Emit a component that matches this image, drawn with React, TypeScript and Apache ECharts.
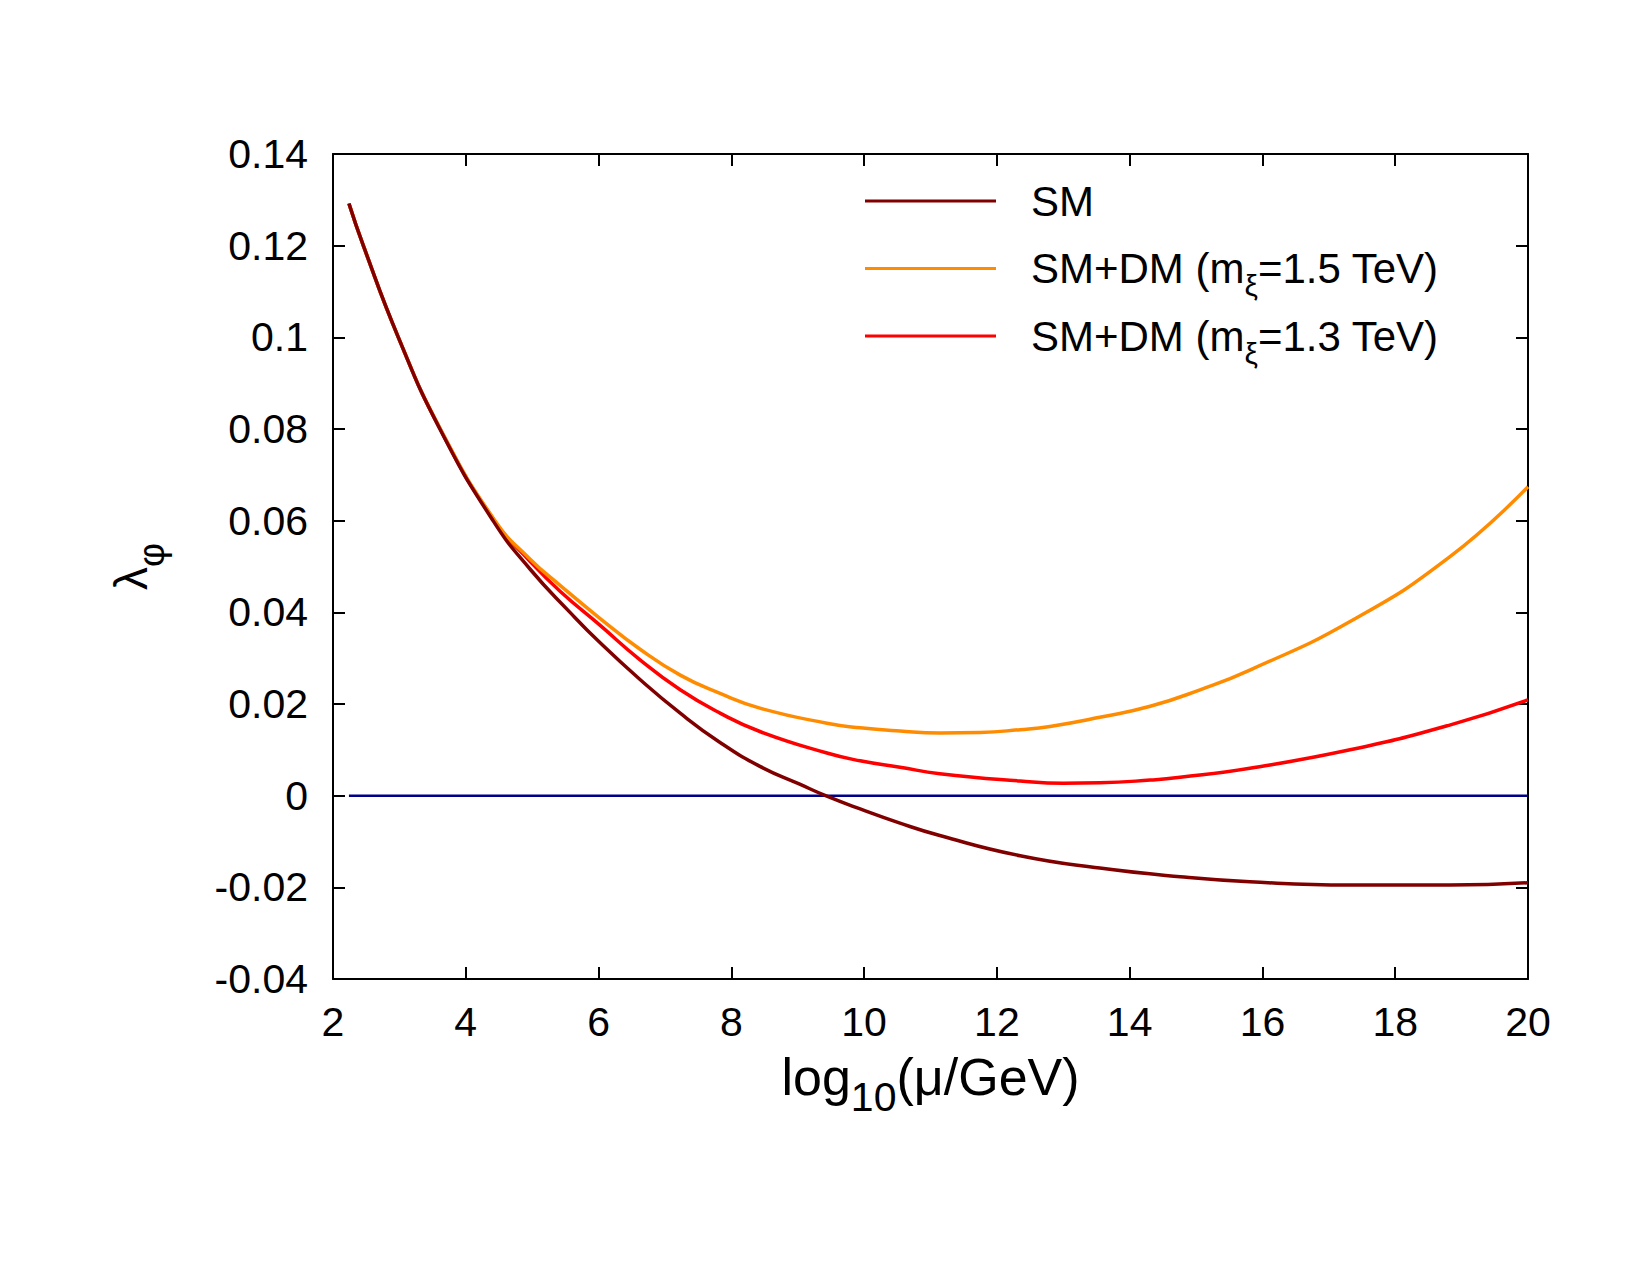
import React, { useEffect, useRef } from "react";
import * as echarts from "echarts";

const FONT = "Liberation Sans, Arial, Helvetica, sans-serif";

// x = log10(mu/GeV), y = lambda_phi
const smX = [2.24, 2.457, 2.984, 3.61, 4.41, 4.97, 5.57, 6.02, 6.62, 7.23, 7.83, 8.43, 9.03, 9.42, 9.94, 10.54, 11.14, 12.35, 13.55, 14.76, 15.81, 17.32, 18.82, 20];
const smY = [0.1292, 0.12, 0.1, 0.08, 0.06, 0.0494, 0.04, 0.0334, 0.0254, 0.018, 0.0116, 0.0064, 0.0025, 0.0, -0.0029, -0.006, -0.0087, -0.0131, -0.0158, -0.0177, -0.0188, -0.0195, -0.0195, -0.019];

const dm15X = [2.24, 2.457, 2.984, 3.61, 4.44, 4.97, 5.42, 6.02, 6.62, 7.23, 7.83, 8.43, 9.44, 9.94, 10.54, 11.14, 11.75, 12.35, 12.8, 13.55, 14.31, 15.06, 15.81, 17.32, 18.82, 20];
const dm15Y = [0.1292, 0.12, 0.1, 0.0802, 0.06, 0.0516, 0.0459, 0.0387, 0.032, 0.0263, 0.0223, 0.0191, 0.0158, 0.0148, 0.0141, 0.0137, 0.0138, 0.0144, 0.0151, 0.0171, 0.0195, 0.0231, 0.0274, 0.038, 0.0521, 0.0674];

const dm13X = [2.24, 2.457, 2.984, 3.61, 4.43, 4.97, 5.42, 6.02, 6.62, 7.23, 7.83, 8.43, 9.44, 9.94, 10.54, 11.14, 12.35, 13.0, 13.55, 14.31, 14.76, 15.81, 17.32, 18.82, 20];
const dm13Y = [0.1292, 0.12, 0.1, 0.0801, 0.06, 0.0511, 0.0446, 0.0372, 0.0297, 0.0231, 0.018, 0.014, 0.0093, 0.0076, 0.0062, 0.0048, 0.0032, 0.0027, 0.0028, 0.0034, 0.004, 0.006, 0.01, 0.0154, 0.0209];

const zeroX = [2.24, 20];
const zeroY = [0, 0];

const seriesNames = ["SM", "SM+DM (mξ=1.5 TeV)", "SM+DM (mξ=1.3 TeV)"];
const legendRich = [
  "{t|SM}{s| }",
  "{t|SM+DM (m}{s|ξ}{t|=1.5 TeV)}",
  "{t|SM+DM (m}{s|ξ}{t|=1.3 TeV)}",
];
const seriesColors = ["#800000", "#ff8c00", "#ff0000"];

const pairs = (xs: number[], ys: number[]) => xs.map((x, i) => [x, ys[i]]);

export default function App() {
  const ref = useRef<HTMLDivElement>(null);
  useEffect(() => {
    if (!ref.current) return;
    const chart = echarts.init(ref.current, null, { renderer: "svg" });
    const axisLine = { show: true, onZero: false, lineStyle: { color: "#000", width: 2 } };
    const axisTick = { show: true, inside: true, length: 12, lineStyle: { color: "#000", width: 2 } };
    const legendTops = [180, 247.5, 315];
    const legends = seriesNames.map((n, i) => ({
      orient: "vertical",
      left: 865,
      top: legendTops[i],
      padding: 0,
      itemGap: 0,
      itemWidth: 131,
      itemHeight: 3,
      icon: "rect",
      selectedMode: false,
      data: [n],
      formatter: (name: string) => legendRich[seriesNames.indexOf(name)],
      textStyle: {
        padding: [0, 0, 0, 30],
        rich: {
          t: { fontSize: 42, lineHeight: 64, fontFamily: FONT, color: "#000" },
          s: { fontSize: 30, lineHeight: 30, verticalAlign: "bottom", fontFamily: FONT, color: "#000" },
        },
      },
    }));
    const option: any = {
      animation: false,
      backgroundColor: "#fff",
      grid: { left: 333, right: 122, top: 154, bottom: 296, containLabel: false },
      legend: legends,
      xAxis: [
        {
          type: "value",
          min: 2,
          max: 20,
          interval: 2,
          position: "bottom",
          axisLine,
          axisTick,
          splitLine: { show: false },
          axisLabel: { fontSize: 41, margin: 22, color: "#000", fontFamily: FONT },
          name: "{a|log}{s|10}{a|(μ/GeV)}",
          nameLocation: "middle",
          nameGap: 58,
          nameTextStyle: {
            rich: {
              a: { fontSize: 52, lineHeight: 80, fontFamily: FONT, color: "#000" },
              s: { fontSize: 41, lineHeight: 41, verticalAlign: "bottom", fontFamily: FONT, color: "#000" },
            },
          },
        },
        {
          type: "value",
          min: 2,
          max: 20,
          interval: 2,
          position: "top",
          axisLine,
          axisTick,
          splitLine: { show: false },
          axisLabel: { show: false },
        },
      ],
      yAxis: [
        {
          type: "value",
          min: -0.04,
          max: 0.14,
          interval: 0.02,
          position: "left",
          axisLine,
          axisTick,
          splitLine: { show: false },
          axisLabel: { fontSize: 41, margin: 25, color: "#000", fontFamily: FONT },
          name: "{a|λ}{s|φ}",
          nameLocation: "middle",
          nameRotate: 90,
          nameGap: 163,
          nameTextStyle: {
            rich: {
              a: { fontSize: 46, lineHeight: 79, fontFamily: FONT, color: "#000" },
              s: { fontSize: 37, lineHeight: 37, verticalAlign: "bottom", fontFamily: FONT, color: "#000" },
            },
          },
        },
        {
          type: "value",
          min: -0.04,
          max: 0.14,
          interval: 0.02,
          position: "right",
          axisLine,
          axisTick,
          splitLine: { show: false },
          axisLabel: { show: false },
        },
      ],
      series: [
        {
          type: "line",
          name: "zero",
          data: pairs(zeroX, zeroY),
          symbol: "none",
          lineStyle: { color: "#00008b", width: 2.5 },
          itemStyle: { color: "#00008b" },
          silent: true,
          z: 1,
        },
        ...seriesNames.map((name, i) => ({
          type: "line",
          name,
          data: pairs([smX, dm15X, dm13X][i], [smY, dm15Y, dm13Y][i]),
          symbol: "none",
          smooth: 0.5,
          lineStyle: { color: seriesColors[i], width: 3.5 },
          itemStyle: { color: seriesColors[i] },
          silent: true,
          z: 2 + (2 - i),
        })),
      ],
    };
    chart.setOption(option);
    return () => chart.dispose();
  }, []);
  return (
    <div
      ref={ref}
      style={{ position: "fixed", left: 0, top: 0, width: 1650, height: 1275, background: "#fff" }}
    />
  );
}
